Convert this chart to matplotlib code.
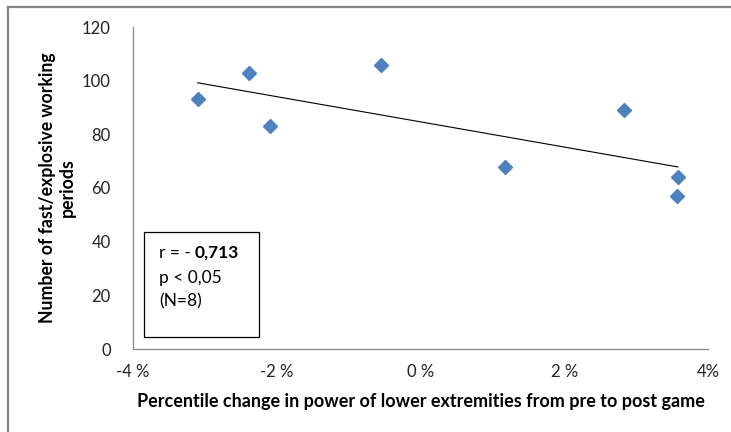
import numpy as np
import matplotlib.pyplot as plt
from matplotlib.patches import Rectangle
from matplotlib.lines import Line2D
from matplotlib.ticker import FuncFormatter

plt.rcParams['font.family'] = ['Lato', 'DejaVu Sans']

# percentile change in power (%) and number of fast/explosive working periods
power_change = [-3.10, -2.39, -2.09, -0.55, 1.18, 2.83, 3.58, 3.57]
fast_periods = [93, 103, 83, 106, 68, 89, 64, 57]

x_ticks = [-4, -2, 0, 2, 4]
y_ticks = [0, 20, 40, 60, 80, 100, 120]

fig = plt.figure(figsize=(7.31, 4.32), dpi=100)
ax = fig.add_axes([133 / 731, 1 - 349 / 432, 575 / 731, 322 / 432])

# outer chart frame (left and top visible)
fig.add_artist(Line2D([8 / 731, 8 / 731], [0, 1 - 7 / 432], color='#868686', lw=1.6))
fig.add_artist(Line2D([8 / 731, 1], [1 - 7 / 432, 1 - 7 / 432], color='#868686', lw=1.6))

ax.plot(power_change, fast_periods, 'D', color='#4F81BD', ms=7.5, zorder=3)

# linear trend line
slope, icpt = np.polyfit(power_change, fast_periods, 1)
xl = np.array([min(power_change), max(power_change)])
ax.plot(xl, slope * xl + icpt, color='black', lw=0.8, zorder=2)

ax.set_xlim(-4, 4)
ax.set_ylim(0, 120)
ax.set_xticks(x_ticks)
ax.set_yticks(y_ticks)
ax.xaxis.set_major_formatter(FuncFormatter(lambda v, p: '%d %%' % v if v != 4 else '%d%%' % v))
ax.tick_params(length=0, labelsize=12, colors='#222222', pad=11)
ax.tick_params(axis='y', pad=16)
for s in ['top', 'right']:
    ax.spines[s].set_visible(False)
for s in ['left', 'bottom']:
    ax.spines[s].set_color('#868686')
    ax.spines[s].set_linewidth(0.9)

ax.set_xlabel('Percentile change in power of lower extremities from pre to post game',
              fontsize=13, fontweight='bold', labelpad=9)
ax.set_ylabel('Number of fast/explosive working\nperiods', fontsize=12.7,
              fontweight='bold', labelpad=4, linespacing=1.25)

# statistics box
fig.add_artist(Rectangle((144 / 731, 1 - 337 / 432), 115 / 731, 105 / 432,
                         fill=False, edgecolor='black', lw=0.9))
t1 = fig.text(159 / 731, 1 - 253 / 432, 'r = - ', fontsize=12.5, va='center')
fig.canvas.draw()
bb = t1.get_window_extent()
fig.text(bb.x1 / 731 - 1 / 731, 1 - 253 / 432, '0,713', fontsize=12.5, fontweight='bold', va='center')
fig.text(159 / 731, 1 - 278 / 432, 'p < 0,05', fontsize=12.5, va='center')
fig.text(159 / 731, 1 - 301 / 432, '(N=8)', fontsize=12.5, va='center')

fig.savefig('out.png', dpi=100)
